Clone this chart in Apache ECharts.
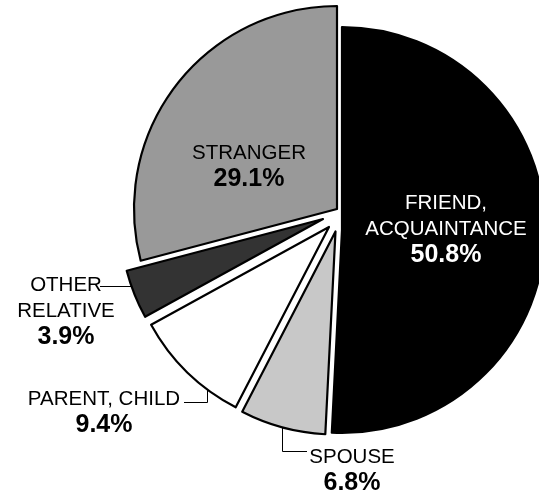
<!DOCTYPE html>
<html>
<head>
<meta charset="utf-8">
<script src="https://cdn.jsdelivr.net/npm/echarts@6/dist/echarts.min.js"></script>
<style>
html,body{margin:0;padding:0;background:#fff;}
#c{width:539px;height:495px;}
</style>
</head>
<body>
<div id="c"></div>
<script>
// ---- data ----
const categories = ['FRIEND,\nACQUAINTANCE', 'SPOUSE', 'PARENT, CHILD', 'OTHER\nRELATIVE', 'STRANGER'];
const values = [50.8, 6.8, 9.4, 3.9, 29.1];

// ---- style / layout ----
const colors = ['#000000', '#c8c8c8', '#ffffff', '#333333', '#999999'];
const textColors = ['#ffffff', '#000000', '#000000', '#000000', '#000000'];
const centers = [[342, 230], [335.5, 231.5], [329, 227], [323, 219], [337, 209]];
const radius = 203;
const labelPos = [[446, 229], [352, 470], [104, 412], [66, 311], [249, 166]];
const leaderLines = [
  null,
  [[282.5, 418], [282.5, 451.5], [307, 451.5]],
  [[207.5, 383], [207.5, 402.5], [184, 402.5]],
  [[140, 286.5], [120, 286.5], [100, 286.5]],
  null
];
const FONT = '"Liberation Sans", Arial, sans-serif';

const chart = echarts.init(document.getElementById('c'), null, {renderer: 'canvas'});

const series = categories.map((_, i) => ({
  type: 'pie',
  center: centers[i],
  radius: [0, radius],
  startAngle: 90,
  clockwise: true,
  avoidLabelOverlap: false,
  silent: true,
  animation: false,
  emphasis: {disabled: true},
  data: categories.map((name, j) => ({
    name: name,
    value: values[j],
    itemStyle: j === i
      ? {color: colors[j], borderColor: '#000', borderWidth: 2.2}
      : {color: 'rgba(0,0,0,0)', borderWidth: 0},
    label: {show: j === i},
    labelLine: {show: j === i && !!leaderLines[j]}
  })),
  label: {
    show: true,
    position: leaderLines[i] ? 'outside' : 'inside',
    fontFamily: FONT,
    color: textColors[i],
    align: 'center',
    formatter: p => '{n|' + p.name + '}\n{p|' + p.value.toFixed(1) + '%}',
    rich: {
      n: {fontFamily: FONT, fontSize: 20.5, lineHeight: 26, color: textColors[i], align: 'center'},
      p: {fontFamily: FONT, fontSize: 25, fontWeight: 'bold', lineHeight: 26, color: textColors[i], align: 'center'}
    }
  },
  labelLine: {show: true, lineStyle: {color: '#000', width: 1}},
  labelLayout: () => {
    const o = {x: labelPos[i][0], y: labelPos[i][1], align: 'center', verticalAlign: 'middle'};
    if (leaderLines[i]) o.labelLinePoints = leaderLines[i];
    return o;
  }
}));

chart.setOption({
  backgroundColor: '#ffffff',
  animation: false,
  series: series
});
</script>
</body>
</html>
